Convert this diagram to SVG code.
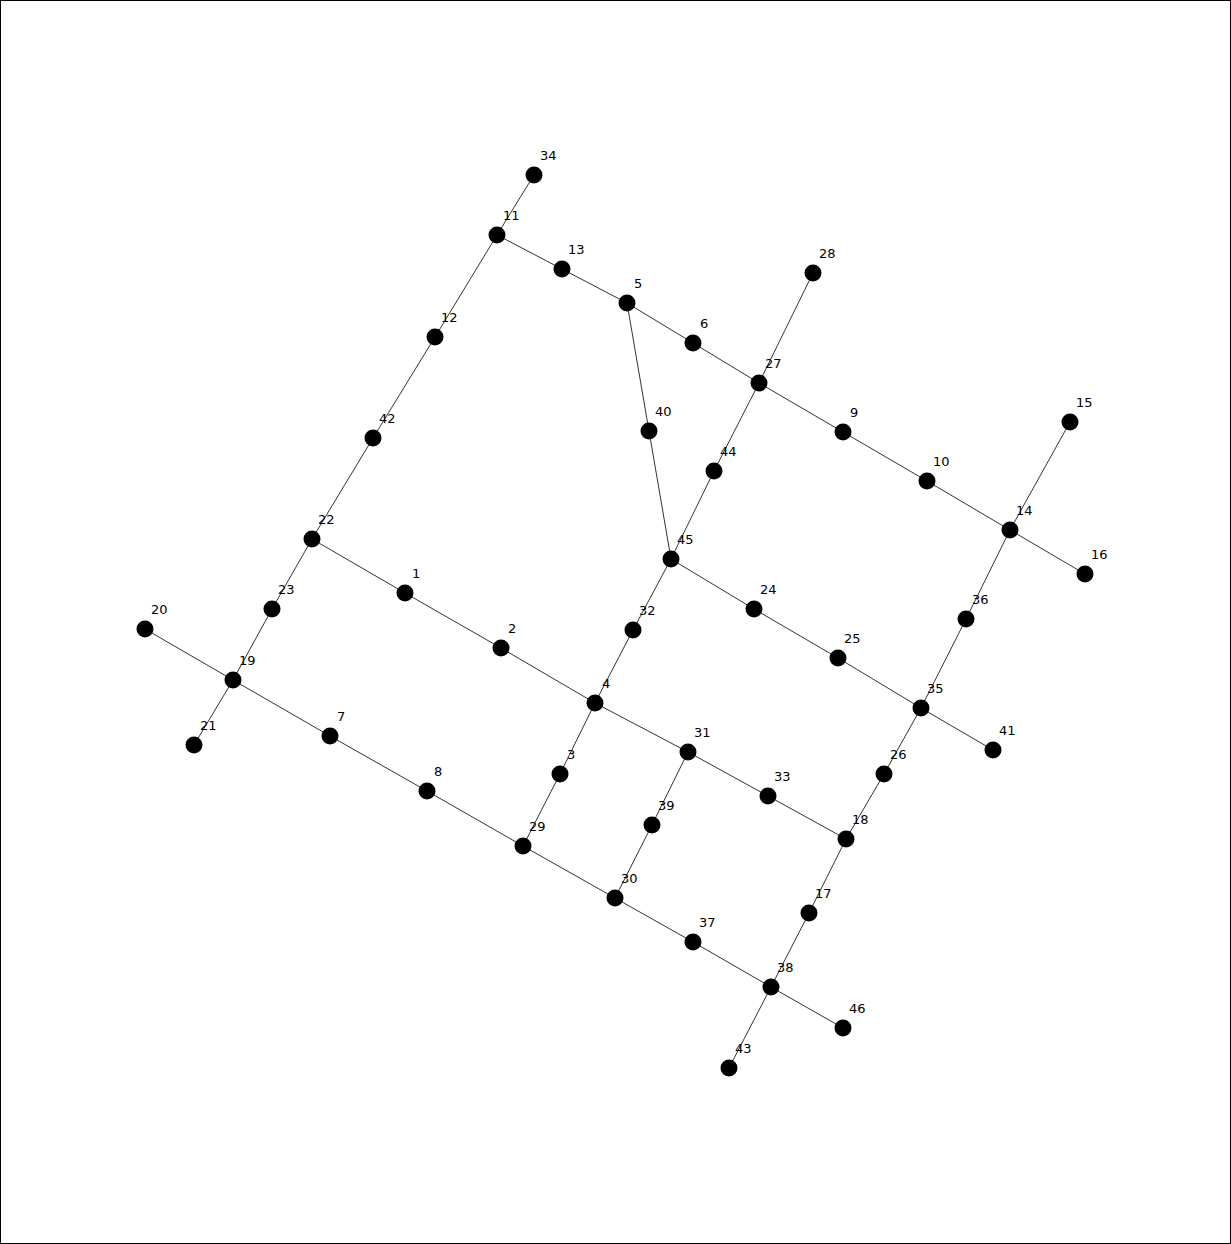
<svg xmlns="http://www.w3.org/2000/svg" width="1231" height="1244" viewBox="0 0 1231 1244">
<style>
.e line{stroke:#333;stroke-width:1}
.n circle{fill:#000}
.n text{font-family:"DejaVu Sans",sans-serif;font-size:13px;fill:#000}
</style>
<rect x="0.5" y="0.5" width="1230" height="1243" fill="#fff" stroke="#000" stroke-width="1"/>
<g id="edges" class="e">
<line x1="534" y1="175" x2="497" y2="235"/>
<line x1="497" y1="235" x2="562" y2="269"/>
<line x1="562" y1="269" x2="627" y2="303"/>
<line x1="627" y1="303" x2="693" y2="343"/>
<line x1="693" y1="343" x2="759" y2="383"/>
<line x1="759" y1="383" x2="843" y2="432"/>
<line x1="843" y1="432" x2="927" y2="481"/>
<line x1="927" y1="481" x2="1010" y2="530"/>
<line x1="1010" y1="530" x2="1085" y2="574"/>
<line x1="1070" y1="422" x2="1010" y2="530"/>
<line x1="1010" y1="530" x2="966" y2="619"/>
<line x1="966" y1="619" x2="921" y2="708"/>
<line x1="921" y1="708" x2="884" y2="774"/>
<line x1="884" y1="774" x2="846" y2="839"/>
<line x1="846" y1="839" x2="809" y2="913"/>
<line x1="809" y1="913" x2="771" y2="987"/>
<line x1="771" y1="987" x2="729" y2="1068"/>
<line x1="771" y1="987" x2="843" y2="1028"/>
<line x1="693" y1="942" x2="771" y2="987"/>
<line x1="615" y1="898" x2="693" y2="942"/>
<line x1="523" y1="846" x2="615" y2="898"/>
<line x1="427" y1="791" x2="523" y2="846"/>
<line x1="330" y1="736" x2="427" y2="791"/>
<line x1="233" y1="680" x2="330" y2="736"/>
<line x1="145" y1="629" x2="233" y2="680"/>
<line x1="233" y1="680" x2="194" y2="745"/>
<line x1="233" y1="680" x2="272" y2="609"/>
<line x1="272" y1="609" x2="312" y2="539"/>
<line x1="312" y1="539" x2="373" y2="438"/>
<line x1="373" y1="438" x2="435" y2="337"/>
<line x1="435" y1="337" x2="497" y2="235"/>
<line x1="312" y1="539" x2="405" y2="593"/>
<line x1="405" y1="593" x2="501" y2="648"/>
<line x1="501" y1="648" x2="595" y2="703"/>
<line x1="595" y1="703" x2="688" y2="752"/>
<line x1="688" y1="752" x2="768" y2="796"/>
<line x1="768" y1="796" x2="846" y2="839"/>
<line x1="688" y1="752" x2="652" y2="825"/>
<line x1="652" y1="825" x2="615" y2="898"/>
<line x1="595" y1="703" x2="560" y2="774"/>
<line x1="560" y1="774" x2="523" y2="846"/>
<line x1="595" y1="703" x2="633" y2="630"/>
<line x1="633" y1="630" x2="671" y2="559"/>
<line x1="671" y1="559" x2="714" y2="471"/>
<line x1="714" y1="471" x2="759" y2="383"/>
<line x1="759" y1="383" x2="813" y2="273"/>
<line x1="627" y1="303" x2="649" y2="431"/>
<line x1="649" y1="431" x2="671" y2="559"/>
<line x1="671" y1="559" x2="754" y2="609"/>
<line x1="754" y1="609" x2="838" y2="658"/>
<line x1="838" y1="658" x2="921" y2="708"/>
<line x1="921" y1="708" x2="993" y2="750"/>
</g>
<g id="n1" class="n"><circle cx="405" cy="593" r="8.5"/><text x="412" y="578">1</text></g>
<g id="n2" class="n"><circle cx="501" cy="648" r="8.5"/><text x="508" y="633">2</text></g>
<g id="n3" class="n"><circle cx="560" cy="774" r="8.5"/><text x="567" y="759">3</text></g>
<g id="n4" class="n"><circle cx="595" cy="703" r="8.5"/><text x="602" y="688">4</text></g>
<g id="n5" class="n"><circle cx="627" cy="303" r="8.5"/><text x="634" y="288">5</text></g>
<g id="n6" class="n"><circle cx="693" cy="343" r="8.5"/><text x="700" y="328">6</text></g>
<g id="n7" class="n"><circle cx="330" cy="736" r="8.5"/><text x="337" y="721">7</text></g>
<g id="n8" class="n"><circle cx="427" cy="791" r="8.5"/><text x="434" y="776">8</text></g>
<g id="n9" class="n"><circle cx="843" cy="432" r="8.5"/><text x="850" y="417">9</text></g>
<g id="n10" class="n"><circle cx="927" cy="481" r="8.5"/><text x="933" y="466">10</text></g>
<g id="n11" class="n"><circle cx="497" cy="235" r="8.5"/><text x="503" y="220">11</text></g>
<g id="n12" class="n"><circle cx="435" cy="337" r="8.5"/><text x="441" y="322">12</text></g>
<g id="n13" class="n"><circle cx="562" cy="269" r="8.5"/><text x="568" y="254">13</text></g>
<g id="n14" class="n"><circle cx="1010" cy="530" r="8.5"/><text x="1016" y="515">14</text></g>
<g id="n15" class="n"><circle cx="1070" cy="422" r="8.5"/><text x="1076" y="407">15</text></g>
<g id="n16" class="n"><circle cx="1085" cy="574" r="8.5"/><text x="1091" y="559">16</text></g>
<g id="n17" class="n"><circle cx="809" cy="913" r="8.5"/><text x="815" y="898">17</text></g>
<g id="n18" class="n"><circle cx="846" cy="839" r="8.5"/><text x="852" y="824">18</text></g>
<g id="n19" class="n"><circle cx="233" cy="680" r="8.5"/><text x="239" y="665">19</text></g>
<g id="n20" class="n"><circle cx="145" cy="629" r="8.5"/><text x="151" y="614">20</text></g>
<g id="n21" class="n"><circle cx="194" cy="745" r="8.5"/><text x="200" y="730">21</text></g>
<g id="n22" class="n"><circle cx="312" cy="539" r="8.5"/><text x="318" y="524">22</text></g>
<g id="n23" class="n"><circle cx="272" cy="609" r="8.5"/><text x="278" y="594">23</text></g>
<g id="n24" class="n"><circle cx="754" cy="609" r="8.5"/><text x="760" y="594">24</text></g>
<g id="n25" class="n"><circle cx="838" cy="658" r="8.5"/><text x="844" y="643">25</text></g>
<g id="n26" class="n"><circle cx="884" cy="774" r="8.5"/><text x="890" y="759">26</text></g>
<g id="n27" class="n"><circle cx="759" cy="383" r="8.5"/><text x="765" y="368">27</text></g>
<g id="n28" class="n"><circle cx="813" cy="273" r="8.5"/><text x="819" y="258">28</text></g>
<g id="n29" class="n"><circle cx="523" cy="846" r="8.5"/><text x="529" y="831">29</text></g>
<g id="n30" class="n"><circle cx="615" cy="898" r="8.5"/><text x="621" y="883">30</text></g>
<g id="n31" class="n"><circle cx="688" cy="752" r="8.5"/><text x="694" y="737">31</text></g>
<g id="n32" class="n"><circle cx="633" cy="630" r="8.5"/><text x="639" y="615">32</text></g>
<g id="n33" class="n"><circle cx="768" cy="796" r="8.5"/><text x="774" y="781">33</text></g>
<g id="n34" class="n"><circle cx="534" cy="175" r="8.5"/><text x="540" y="160">34</text></g>
<g id="n35" class="n"><circle cx="921" cy="708" r="8.5"/><text x="927" y="693">35</text></g>
<g id="n36" class="n"><circle cx="966" cy="619" r="8.5"/><text x="972" y="604">36</text></g>
<g id="n37" class="n"><circle cx="693" cy="942" r="8.5"/><text x="699" y="927">37</text></g>
<g id="n38" class="n"><circle cx="771" cy="987" r="8.5"/><text x="777" y="972">38</text></g>
<g id="n39" class="n"><circle cx="652" cy="825" r="8.5"/><text x="658" y="810">39</text></g>
<g id="n40" class="n"><circle cx="649" cy="431" r="8.5"/><text x="655" y="416">40</text></g>
<g id="n41" class="n"><circle cx="993" cy="750" r="8.5"/><text x="999" y="735">41</text></g>
<g id="n42" class="n"><circle cx="373" cy="438" r="8.5"/><text x="379" y="423">42</text></g>
<g id="n43" class="n"><circle cx="729" cy="1068" r="8.5"/><text x="735" y="1053">43</text></g>
<g id="n44" class="n"><circle cx="714" cy="471" r="8.5"/><text x="720" y="456">44</text></g>
<g id="n45" class="n"><circle cx="671" cy="559" r="8.5"/><text x="677" y="544">45</text></g>
<g id="n46" class="n"><circle cx="843" cy="1028" r="8.5"/><text x="849" y="1013">46</text></g>
</svg>
